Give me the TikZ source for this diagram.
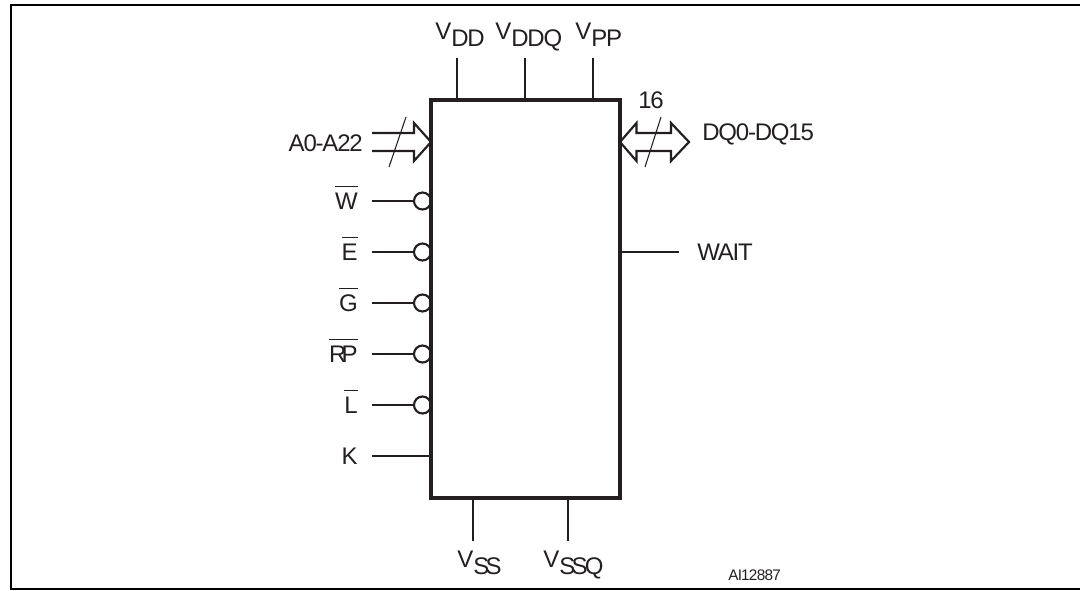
\documentclass[tikz,border=0pt]{standalone}
\usepackage{fontspec}
\setmainfont[LetterSpace=-5]{Liberation Sans}
\usepackage{xcolor}
\usepackage{tikz}
\usetikzlibrary{positioning}

\definecolor{inkblack}{HTML}{231F20}
% Pin names: supply with lowered suffix, active low with a bar
\newcommand{\vpin}[1]{V\raisebox{-.3em}{#1}}
\newcommand{\barname}[1]{\vbox{\hrule height .8pt \kern 4.5pt \hbox{#1}}}

\begin{document}
\begin{tikzpicture} [x = .75pt, y = -.75pt, inkblack, node distance = 38.25pt, on grid,
		chipbox/.style = {draw, line width = 2.3pt, inner sep = 0pt, outer sep = 0pt, minimum width = 141.75pt, minimum height = 298.5pt},
		bubble/.style = {draw, circle, line width = 1.6pt, inner sep = 0pt, outer sep = 0pt, minimum size = 12.75pt},
		pinend/.style = {coordinate},
		pinname/.style = {inner sep = 0pt, font = \fontsize{18}{21}\selectfont},
		pinline/.style = {line width = 1.5pt},
		busline/.style = {line width = 1.6pt, line join = miter},
		slash/.style = {line width = .8pt}]
		\useasboundingbox (0,0) rectangle (1080,590);

		% Outer frame, open on the right
		\coordinate (ftop) at (1080,5);
		\coordinate (fleft) at (11,5);
		\coordinate (fcorner) at (11,589);
		\coordinate (fbottom) at (1080,589);
		\draw [black, line width = 2pt] (ftop) -- (fleft) -- (fcorner) -- (fbottom);

		% Chip : Every pin is measured based to this one
		\node (chip) [chipbox] at (525.5,299) {};

		% Top pins
		\coordinate (vdd) at (457,58);
		\coordinate (vddq) at (525,58);
		\coordinate (vpp) at (593,58);
		\node (vddl) [pinname, anchor = base west] at (435,39) {\vpin{DD}};
		\node (vddql) [pinname, anchor = base west] at (495,39) {\vpin{DDQ}};
		\node (vppl) [pinname, anchor = base west] at (575,39) {\vpin{PP}};

		% Bottom pins
		\coordinate (vss) at (473,541);
		\coordinate (vssq) at (568,541);
		\node (vssl) [pinname, anchor = base west] at (457,567) {\vpin{S\kern-.15em S}};
		\node (vssql) [pinname, anchor = base west] at (543,567) {\vpin{S\kern-.15em S\kern-.12em Q}};

		% Left pins
		\node (wb) [bubble] at (422.5,201) {};
		\node (eb) [bubble, below = of wb] {};
		\node (gb) [bubble, below = of eb] {};
		\node (rb) [bubble, below = of gb] {};
		\node (lb) [bubble, below = of rb] {};
		\node (wend) [pinend, left = 37.9pt of wb] {};
		\node (eend) [pinend, left = 37.9pt of eb] {};
		\node (gend) [pinend, left = 37.9pt of gb] {};
		\node (rend) [pinend, left = 37.9pt of rb] {};
		\node (lend) [pinend, left = 37.9pt of lb] {};
		\node (kend) [pinend, below = of lend] {};

		\node (wl) [pinname, left = 10.5pt of wend, anchor = base east, yshift = -6.5pt] {\barname{W}};
		\node (el) [pinname, left = 10.5pt of eend, anchor = base east, yshift = -6.5pt] {\barname{E}};
		\node (gl) [pinname, left = 10.5pt of gend, anchor = base east, yshift = -6.5pt] {\barname{G}};
		\node (rl) [pinname, left = 10.5pt of rend, anchor = base east, yshift = -6.5pt] {\barname{R\kern-.2em P}};
		\node (ll) [pinname, left = 10.5pt of lend, anchor = base east, yshift = -6.5pt] {\barname{L}};
		\node (kl) [pinname, left = 10.5pt of kend, anchor = base east, yshift = -6.5pt] {K};

		% Address and data buses
		\coordinate (atail) at (372,142);
		\coordinate (dtip) at (689,142);
		\coordinate (aslashtop) at (406,117);
		\coordinate (aslashbot) at (389,167);
		\coordinate (dslashtop) at (661,117);
		\coordinate (dslashbot) at (645,167);
		\node (al) [pinname, anchor = base east] at (363,151) {A0-A22};
		\node (dl) [pinname, anchor = base west] at (702,140) {DQ0-DQ15};
		\node (dn) [pinname, anchor = base west] at (638,108) {16};

		% Right pin
		\coordinate (wait) at (679,252);
		\node (waitl) [pinname, anchor = base west] at (697,260) {WAIT};

		% Drawing code
		\node (ref) [pinname, font = \fontsize{11.5}{14}\selectfont, anchor = base west] at (728,580) {AI12887};

		% Draw Connections
		\draw [pinline] (vdd) -- (vdd |- chip.north);
		\draw [pinline] (vddq) -- (vddq |- chip.north);
		\draw [pinline] (vpp) -- (vpp |- chip.north);
		\draw [pinline] (vss) -- (vss |- chip.south);
		\draw [pinline] (vssq) -- (vssq |- chip.south);
		\draw [pinline] (wend) -- (wb);
		\draw [pinline] (eend) -- (eb);
		\draw [pinline] (gend) -- (gb);
		\draw [pinline] (rend) -- (rb);
		\draw [pinline] (lend) -- (lb);
		\draw [pinline] (kend) -- (kend -| chip.west);
		\draw [pinline] (wait) -- (wait -| chip.east);

		\draw [busline] (atail) ++(0,-9) -- ++(42,0) -- ++(0,-10) -- (atail -| chip.west)
		-- (414,161) -- (414,151) -- (372,151);
		\draw [busline] (dtip) -- (671,123) -- (671,133) -- (636.5,133) -- (636.5,123) -- (dtip -| chip.east)
		-- (636.5,161) -- (636.5,151) -- (671,151) -- (671,161) -- cycle;
		\draw [slash] (aslashtop) -- (aslashbot);
		\draw [slash] (dslashtop) -- (dslashbot);
	\end{tikzpicture}
\end{document}
